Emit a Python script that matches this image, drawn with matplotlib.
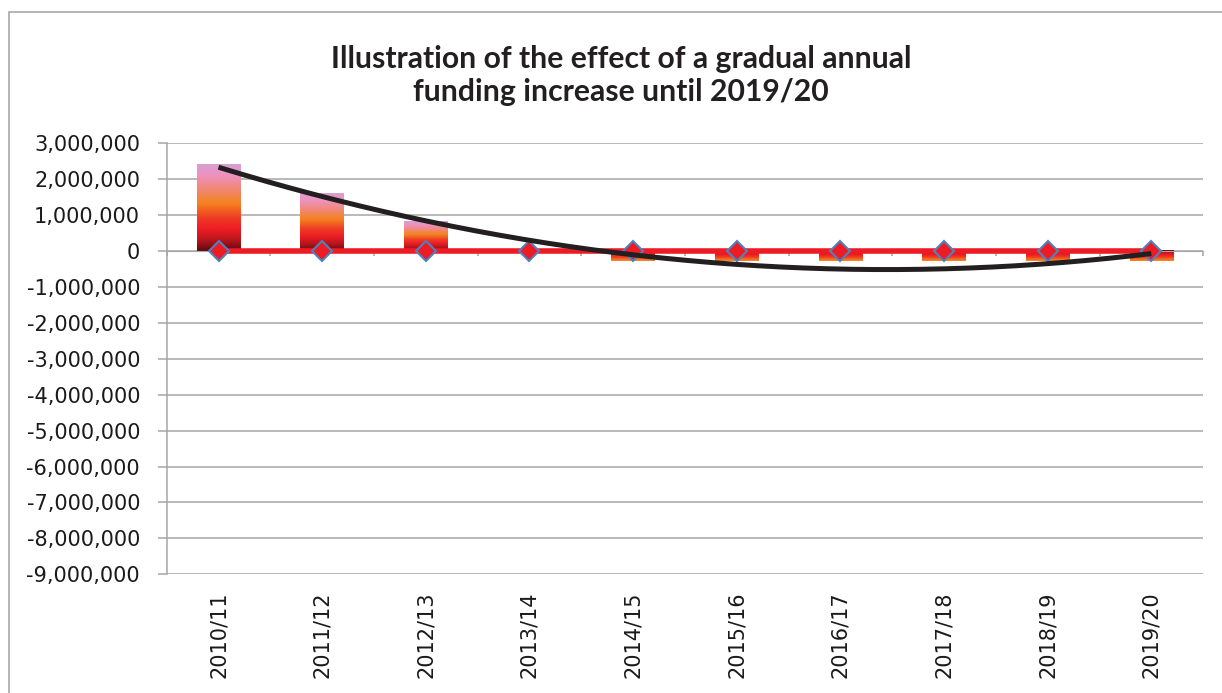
import numpy as np
import matplotlib.pyplot as plt
from matplotlib.colors import LinearSegmentedColormap
from matplotlib.patches import Rectangle
from matplotlib.ticker import FuncFormatter

# data
years = ["2010/11", "2011/12", "2012/13", "2013/14", "2014/15",
         "2015/16", "2016/17", "2017/18", "2018/19", "2019/20"]
funding_change = [2420000, 1610000, 810000, 0, -290000,
                  -290000, -290000, -290000, -290000, -290000]
baseline = [0, 0, 0, 0, 0, 0, 0, 0, 0, 0]
y_ticks = list(range(-9000000, 3000001, 1000000))
title = "Illustration of the effect of a gradual annual\nfunding increase until 2019/20"

# "fire" style gradient, zero end first, bar tip last
fire = LinearSegmentedColormap.from_list("fire", [
    (0.00, "#5c0a0f"), (0.12, "#b5151c"), (0.25, "#ed1c24"),
    (0.38, "#ef3b24"), (0.55, "#f5821f"), (0.70, "#f08870"),
    (0.88, "#ee92c2"), (1.00, "#d7a1ce")])

fig = plt.figure(figsize=(12.22, 6.93), dpi=100)
ax = fig.add_axes([0.1364, 0.1713, 0.8482, 0.6219])

x = np.arange(1, len(years) + 1)
bars = ax.bar(x, funding_change, width=0.42, color="none", edgecolor="none", zorder=2)
for b in bars:
    x0, w, h = b.get_x(), b.get_width(), b.get_height()
    if h == 0:
        continue
    # short negative bars only show the red-to-orange part of the fill
    top = 1.0 if h > 0 else 0.6
    grad = np.linspace(0, top, 256).reshape(-1, 1)
    ax.imshow(grad, cmap=fire, vmin=0, vmax=1, origin="lower", aspect="auto",
              extent=(x0, x0 + w, 0, h), zorder=2, interpolation="bilinear")

ax.plot(x, baseline, color="#ed1c24", lw=4, marker="D", ms=9.7,
        mfc="#ed1c24", mec="#4f81bd", mew=1.5, zorder=3)

# 2nd order polynomial trend line, as in the spreadsheet
coef = np.polyfit(x, funding_change, 2)
xs = np.linspace(x[0], x[-1], 200)
ax.plot(xs, np.polyval(coef, xs), color="#231f20", lw=3.6,
        solid_capstyle="butt", zorder=4)

ax.set_xlim(0.5, len(years) + 0.5)
ax.set_ylim(y_ticks[0], y_ticks[-1])
ax.set_yticks(y_ticks)
ax.yaxis.set_major_formatter(FuncFormatter(lambda v, p: f"{v:,.0f}"))
ax.grid(axis="y", color="#a6a6a6", lw=1.1)
ax.set_axisbelow(True)
for s in ("top", "right"):
    ax.spines[s].set_visible(False)
ax.spines["left"].set_color("#a6a6a6")
ax.spines["left"].set_linewidth(1.1)
ax.spines["bottom"].set_position(("data", 0))
ax.spines["bottom"].set_color("#a6a6a6")
ax.set_xticks(np.arange(0.5, len(years) + 1, 1))
ax.set_xticklabels([])
ax.tick_params(axis="x", length=3.6, color="#a6a6a6", width=1.1)
ax.tick_params(axis="y", length=6.5, color="#a6a6a6", width=1.1, pad=12.7,
               labelsize=15, labelcolor="#1a1a1a")

sec = ax.secondary_xaxis("bottom")
sec.set_ticks(x, labels=years)
sec.tick_params(length=0, pad=12.2, labelsize=15, labelcolor="#1a1a1a", labelrotation=90)
sec.spines["bottom"].set_visible(False)

fig.text(0.508, 0.891, title, ha="center", va="center", fontsize=21.7,
         fontweight="bold", family="Lato", color="#231f20", linespacing=1.25)

fig.add_artist(Rectangle((9 / 1222, -0.1), 1.2, 1 - 11.7 / 693 + 0.1,
                         transform=fig.transFigure, fill=False,
                         edgecolor="#a0a0a0", lw=1.1, clip_on=False))

fig.savefig("out.png", dpi=100)
